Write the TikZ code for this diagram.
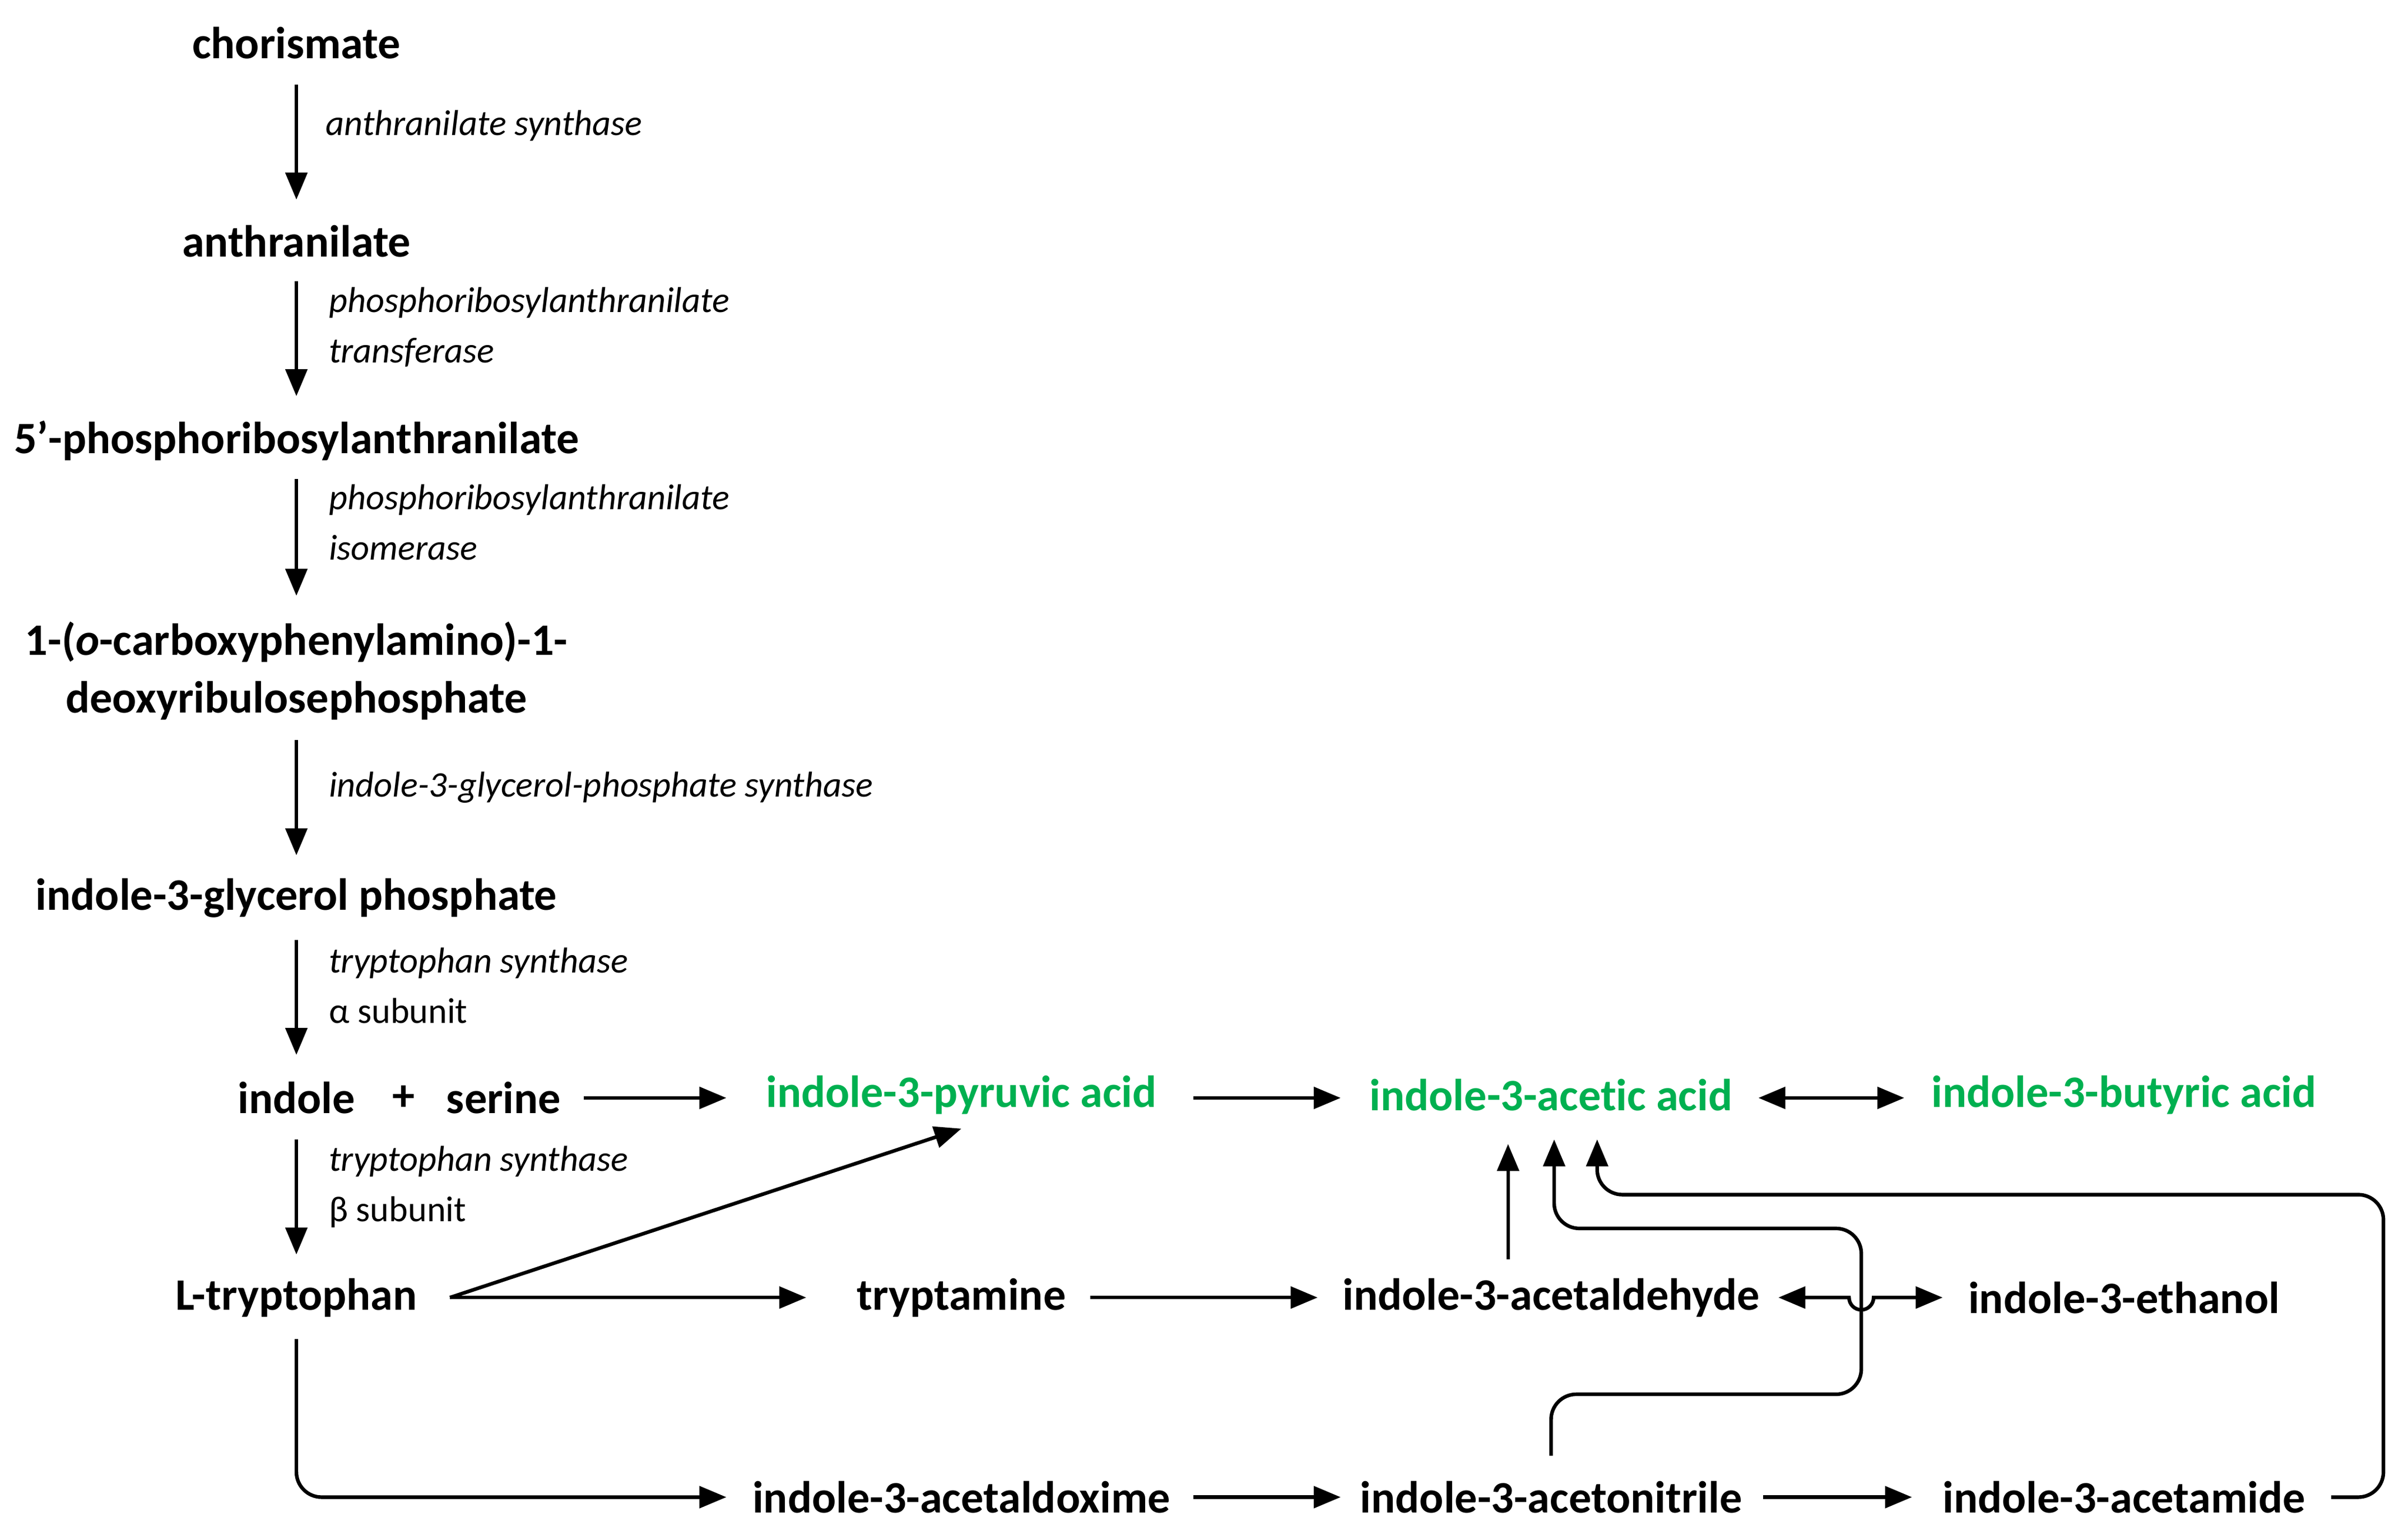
\documentclass[tikz,border=0pt]{standalone}
\usepackage{fontspec}
\setmainfont{Carlito}[Ligatures={NoCommon}]
\usetikzlibrary{arrows.meta}
\definecolor{gr}{RGB}{0,176,80}
\begin{document}
\begin{tikzpicture}[x=0.3mm,y=-0.3mm,
 c/.style={font=\fontsize{25}{32}\selectfont\bfseries,inner sep=2pt},
 g/.style={c,text=gr},
 e/.style={font=\fontsize{20}{28}\selectfont\itshape,anchor=west,align=left,inner sep=0},
 a/.style={-{Triangle[length=15pt,width=12pt]},line width=2pt},
 b/.style={{Triangle[length=15pt,width=12pt]}-{Triangle[length=15pt,width=12pt]},line width=2pt}]
\useasboundingbox (0,0) rectangle (1568,997);
\node[c] (ch) at (193,28) {chorismate};
\node[c] (an) at (193,157) {anthranilate};
\node[c] (pr) at (193,287) {5\char"27-phosphoribosylanthranilate};
\node[c,align=center] (cd) at (193,437) {1-(\textit{o}-carboxyphenylamino)-1-\\deoxyribulosephosphate};
\node[c] (ig) at (193,585) {indole-3-glycerol phosphate};
\node[c] (in) at (193,715) {indole};
\node[c] (pl) at (263,715) {+};
\node[c] (se) at (328,715) {serine};
\node[g] (pa) at (626,713) {indole-3-pyruvic acid};
\node[g] (ia) at (1010,713) {indole-3-acetic acid};
\node[g] (ib) at (1383,713) {indole-3-butyric acid};
\node[c] (tr) at (193,845) {L-tryptophan};
\node[c] (ta) at (626,845) {tryptamine};
\node[c] (ad) at (1010,845) {indole-3-acetaldehyde};
\node[c] (et) at (1383,845) {indole-3-ethanol};
\node[c] (ox) at (626,975) {indole-3-acetaldoxime};
\node[c] (ni) at (1010,975) {indole-3-acetonitrile};
\node[c] (am) at (1383,975) {indole-3-acetamide};
\node[e] (l1) at (212,82) {anthranilate synthase};
\node[e] (l2) at (214,213) {phosphoribosylanthranilate\\transferase};
\node[e] (l3) at (214,340) {phosphoribosylanthranilate\\isomerase};
\node[e] (l4) at (214,513) {indole-3-glycerol-phosphate synthase};
\node[e] (l5) at (214,642) {tryptophan synthase\\{\upshape α subunit}};
\node[e] (l6) at (214,773) {tryptophan synthase\\{\upshape β subunit}};
\draw[a] (193,55) -- (193,130);
\draw[a] (193,183) -- (193,258);
\draw[a] (193,312) -- (193,388);
\draw[a] (193,482) -- (193,557);
\draw[a] (193,612) -- (193,687);
\draw[a] (193,742) -- (193,817);
\draw[a] (380,715) -- (473,715);
\draw[a] (777,715) -- (873,715);
\draw[b] (1145,715) -- (1240,715);
\coordinate (tp) at (293,845);
\draw[a] (tp) -- (626,735);
\draw[a] (tp) -- (525,845);
\draw[a] (710,845) -- (858,845);
\draw[b] (1158,845) -- (1204,845) arc[start angle=180,end angle=0,radius=8] -- (1265,845);
\draw[a] (982,820) -- (982,745);
\draw[a,rounded corners=14pt] (193,872) -- (193,975) -- (473,975);
\draw[a] (777,975) -- (873,975);
\draw[a] (1148,975) -- (1245,975);
\draw[a,rounded corners=14pt] (1010,948) -- (1010,908) -- (1212,908) -- (1212,800) -- (1012,800) -- (1012,742);
\draw[a,rounded corners=14pt] (1518,975) -- (1552,975) -- (1552,778) -- (1040,778) -- (1040,742);
\end{tikzpicture}
\end{document}
